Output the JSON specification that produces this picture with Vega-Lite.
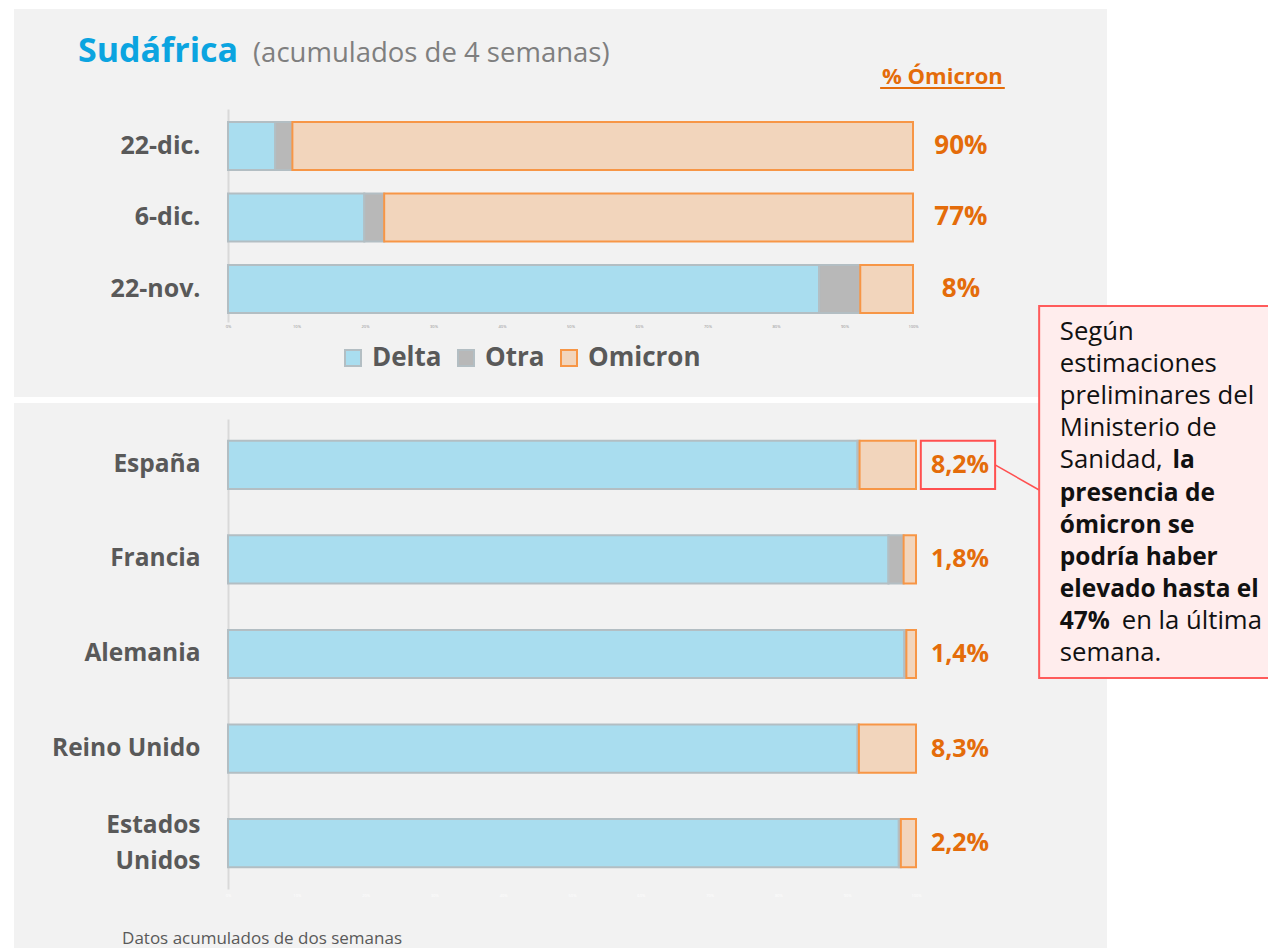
{
  "$schema": "https://vega.github.io/schema/vega-lite/v6.json",
  "background": "white",
  "padding": {"left": 14, "top": 9, "right": 0, "bottom": 0},
  "bounds": "flush",
  "spacing": 6,
  "config": {
    "view": {"fill": "#f2f2f2", "stroke": null},
    "font": "Open Sans",
    "axis": {"grid": false}
  },
  "datasets": {
    "sudafrica": [
      {"fecha": "22-dic.", "variante": "Delta", "valor": 6.9},
      {"fecha": "22-dic.", "variante": "Otra", "valor": 2.5},
      {"fecha": "22-dic.", "variante": "Omicron", "valor": 90.6, "etiqueta": "90%"},
      {"fecha": "6-dic.", "variante": "Delta", "valor": 19.9},
      {"fecha": "6-dic.", "variante": "Otra", "valor": 2.9},
      {"fecha": "6-dic.", "variante": "Omicron", "valor": 77.2, "etiqueta": "77%"},
      {"fecha": "22-nov.", "variante": "Delta", "valor": 86.3},
      {"fecha": "22-nov.", "variante": "Otra", "valor": 6.0},
      {"fecha": "22-nov.", "variante": "Omicron", "valor": 7.7, "etiqueta": "8%"}
    ],
    "paises": [
      {"pais": "España", "variante": "Delta", "valor": 91.5},
      {"pais": "España", "variante": "Otra", "valor": 0.3},
      {"pais": "España", "variante": "Omicron", "valor": 8.2, "etiqueta": "8,2%"},
      {"pais": "Francia", "variante": "Delta", "valor": 96.0},
      {"pais": "Francia", "variante": "Otra", "valor": 2.2},
      {"pais": "Francia", "variante": "Omicron", "valor": 1.8, "etiqueta": "1,8%"},
      {"pais": "Alemania", "variante": "Delta", "valor": 98.3},
      {"pais": "Alemania", "variante": "Otra", "valor": 0.3},
      {"pais": "Alemania", "variante": "Omicron", "valor": 1.4, "etiqueta": "1,4%"},
      {"pais": "Reino Unido", "variante": "Delta", "valor": 91.5},
      {"pais": "Reino Unido", "variante": "Otra", "valor": 0.2},
      {"pais": "Reino Unido", "variante": "Omicron", "valor": 8.3, "etiqueta": "8,3%"},
      {"pais": "Estados Unidos", "variante": "Delta", "valor": 97.5},
      {"pais": "Estados Unidos", "variante": "Otra", "valor": 0.3},
      {"pais": "Estados Unidos", "variante": "Omicron", "valor": 2.2, "etiqueta": "2,2%"}
    ]
  },
  "resolve": {"scale": {"x": "independent", "y": "independent", "fill": "independent", "stroke": "independent"}},
  "vconcat": [
    {
      "width": 1093,
      "height": 388,
      "layer": [
        {
          "data": {"name": "sudafrica"},
          "transform": [{"calculate": "indexof(['Delta', 'Otra', 'Omicron'], datum.variante)", "as": "orden"}],
          "mark": {"type": "bar", "strokeWidth": 2},
          "encoding": {
            "y": {
              "field": "fecha", "type": "nominal",
              "scale": {"domain": ["22-dic.", "6-dic.", "22-nov."], "range": [100, 313], "paddingInner": 0.33, "paddingOuter": 0.154, "align": 0.59},
              "axis": {"orient": "left", "offset": -214, "title": null, "ticks": false, "domainColor": "#d9d9d9", "domainWidth": 2, "labelPadding": 28, "labelFontSize": 25, "labelFontWeight": "bold", "labelColor": "#595959"}
            },
            "x": {
              "field": "valor", "type": "quantitative", "stack": "zero",
              "scale": {"domain": [0, 100], "range": [214, 899], "nice": false},
              "axis": {"orient": "bottom", "offset": -74, "domain": false, "ticks": false, "title": null, "values": [0, 10, 20, 30, 40, 50, 60, 70, 80, 90, 100], "labelExpr": "datum.value + '%'", "labelFontSize": 4, "labelColor": "#8c8c8c", "labelPadding": 1, "labelFlush": false}
            },
            "order": {"field": "orden", "type": "quantitative"},
            "fill": {
              "field": "variante", "type": "nominal", "sort": ["Delta", "Otra", "Omicron"],
              "scale": {"domain": ["Delta", "Otra", "Omicron"], "range": ["#a9ddef", "#b8b8b8", "#f2d5bc"]},
              "legend": {"orient": "none", "legendX": 326, "legendY": 336, "direction": "horizontal", "title": null, "symbolType": "square", "symbolSize": 256, "symbolStrokeWidth": 2, "labelFontSize": 26, "labelFontWeight": "bold", "labelColor": "#595959", "labelOffset": 6, "columnPadding": 11}
            },
            "stroke": {
              "field": "variante", "type": "nominal", "sort": ["Delta", "Otra", "Omicron"],
              "scale": {"domain": ["Delta", "Otra", "Omicron"], "range": ["#b3bec3", "#b3bec3", "#f79646"]},
              "legend": {"orient": "none", "legendX": 326, "legendY": 336, "direction": "horizontal", "title": null, "symbolType": "square", "symbolSize": 256, "symbolStrokeWidth": 2, "labelFontSize": 26, "labelFontWeight": "bold", "labelColor": "#595959", "labelOffset": 6, "columnPadding": 11}
            }
          }
        },
        {
          "data": {"name": "sudafrica"},
          "transform": [{"filter": "datum.variante == 'Omicron'"}],
          "mark": {"type": "text", "fontSize": 26, "fontWeight": "bold", "fill": "#e46c0a", "align": "center", "baseline": "middle"},
          "encoding": {
            "y": {"field": "fecha", "type": "nominal"},
            "x": {"datum": 107},
            "text": {"field": "etiqueta"}
          }
        },
        {
          "data": {"values": [{}]},
          "mark": {"type": "text", "text": "Sudáfrica", "fontSize": 34, "fontWeight": "bold", "fill": "#0ba4e0", "align": "left", "baseline": "alphabetic"},
          "encoding": {"x": {"datum": -21.9}, "y": {"value": 53}}
        },
        {
          "data": {"values": [{}]},
          "mark": {"type": "text", "text": "(acumulados de 4 semanas)", "fontSize": 27.5, "fill": "#7f7f7f", "align": "left", "baseline": "alphabetic"},
          "encoding": {"x": {"datum": 3.65}, "y": {"value": 53}}
        },
        {
          "data": {"values": [{}]},
          "mark": {"type": "text", "text": "% Ómicron", "fontSize": 22, "fontWeight": "bold", "fill": "#e46c0a", "align": "center", "baseline": "alphabetic"},
          "encoding": {"x": {"datum": 104.3}, "y": {"value": 75}}
        },
        {
          "data": {"values": [{}]},
          "mark": {"type": "rule", "stroke": "#e46c0a", "strokeWidth": 2},
          "encoding": {"x": {"datum": 95.2}, "x2": {"datum": 113.4}, "y": {"value": 79}}
        }
      ]
    },
    {
      "width": 1093,
      "height": 545,
      "layer": [
        {
          "data": {"name": "paises"},
          "transform": [{"calculate": "indexof(['Delta', 'Otra', 'Omicron'], datum.variante)", "as": "orden"}],
          "mark": {"type": "bar", "strokeWidth": 2},
          "encoding": {
            "y": {
              "field": "pais", "type": "nominal",
              "scale": {"domain": ["España", "Francia", "Alemania", "Reino Unido", "Estados Unidos"], "range": [16, 486], "paddingInner": 0.49, "paddingOuter": 0.23},
              "axis": {"orient": "left", "offset": -214, "title": null, "ticks": false, "domainColor": "#d9d9d9", "domainWidth": 2, "labelPadding": 28, "labelFontSize": 24.5, "labelFontWeight": "bold", "labelColor": "#595959", "labelLineHeight": 36, "labelExpr": "datum.label == 'Estados Unidos' ? ['Estados', 'Unidos'] : datum.label", "labelOffset": {"condition": {"test": "datum.value == 'Estados Unidos'", "value": -17}, "value": 0}}
            },
            "x": {
              "field": "valor", "type": "quantitative", "stack": "zero",
              "scale": {"domain": [0, 100], "range": [214, 902], "nice": false},
              "axis": {"orient": "bottom", "offset": -56, "domain": false, "ticks": false, "title": null, "values": [0, 10, 20, 30, 40, 50, 60, 70, 80, 90, 100], "labelExpr": "datum.value + '%'", "labelFontSize": 4, "labelColor": "#ffffff", "labelPadding": 1, "labelFlush": false}
            },
            "order": {"field": "orden", "type": "quantitative"},
            "fill": {
              "field": "variante", "type": "nominal", "sort": ["Delta", "Otra", "Omicron"],
              "scale": {"domain": ["Delta", "Otra", "Omicron"], "range": ["#a9ddef", "#b8b8b8", "#f2d5bc"]},
              "legend": null
            },
            "stroke": {
              "field": "variante", "type": "nominal", "sort": ["Delta", "Otra", "Omicron"],
              "scale": {"domain": ["Delta", "Otra", "Omicron"], "range": ["#b3bec3", "#b3bec3", "#f79646"]},
              "legend": null
            }
          }
        },
        {
          "data": {"name": "paises"},
          "transform": [{"filter": "datum.variante == 'Omicron'"}],
          "mark": {"type": "text", "fontSize": 25, "fontWeight": "bold", "fill": "#e46c0a", "align": "center", "baseline": "middle"},
          "encoding": {
            "y": {"field": "pais", "type": "nominal"},
            "x": {"datum": 106.4},
            "text": {"field": "etiqueta"}
          }
        },
        {
          "data": {"values": [{}]},
          "mark": {"type": "rect", "fillOpacity": 0, "stroke": "#ff5050", "strokeWidth": 2},
          "encoding": {"x": {"datum": 100.7}, "x2": {"datum": 111.5}, "y": {"datum": "España"}}
        },
        {
          "data": {"values": [{}]},
          "mark": {"type": "rule", "stroke": "#ff5050", "strokeWidth": 1.5},
          "encoding": {"x": {"datum": 111.5}, "x2": {"datum": 117.9}, "y": {"datum": "España"}, "y2": {"value": 87}}
        },
        {
          "data": {"values": [{}]},
          "mark": {"type": "rect", "fill": "#ffeded", "stroke": "#ff5b5b", "strokeWidth": 2},
          "encoding": {"x": {"datum": 117.9}, "x2": {"datum": 152.2}, "y": {"value": -97}, "y2": {"value": 275}}
        },
        {
          "data": {"values": [{}]},
          "mark": {"type": "text", "text": ["Según", "estimaciones", "preliminares del", "Ministerio de", "Sanidad,"], "lineHeight": 32.1, "fontSize": 25.7, "fill": "#111111", "align": "left", "baseline": "alphabetic"},
          "encoding": {"x": {"datum": 120.9}, "y": {"value": -63}}
        },
        {
          "data": {"values": [{}]},
          "mark": {"type": "text", "text": "la", "fontSize": 24.5, "fontWeight": "bold", "fill": "#111111", "align": "left", "baseline": "alphabetic"},
          "encoding": {"x": {"datum": 137.3}, "y": {"value": 65.4}}
        },
        {
          "data": {"values": [{}]},
          "mark": {"type": "text", "text": ["presencia de", "ómicron se", "podría haber", "elevado hasta el", "47%"], "lineHeight": 32.1, "fontSize": 24.5, "fontWeight": "bold", "fill": "#111111", "align": "left", "baseline": "alphabetic"},
          "encoding": {"x": {"datum": 120.9}, "y": {"value": 97.5}}
        },
        {
          "data": {"values": [{}]},
          "mark": {"type": "text", "text": "en la última", "fontSize": 25.7, "fill": "#111111", "align": "left", "baseline": "alphabetic"},
          "encoding": {"x": {"datum": 129.9}, "y": {"value": 225.9}}
        },
        {
          "data": {"values": [{}]},
          "mark": {"type": "text", "text": "semana.", "fontSize": 25.7, "fill": "#111111", "align": "left", "baseline": "alphabetic"},
          "encoding": {"x": {"datum": 120.9}, "y": {"value": 258}}
        },
        {
          "data": {"values": [{}]},
          "mark": {"type": "text", "text": "Datos acumulados de dos semanas", "fontSize": 17, "fill": "#595959", "align": "left", "baseline": "alphabetic"},
          "encoding": {"x": {"datum": -15.4}, "y": {"value": 541}}
        }
      ]
    }
  ]
}
